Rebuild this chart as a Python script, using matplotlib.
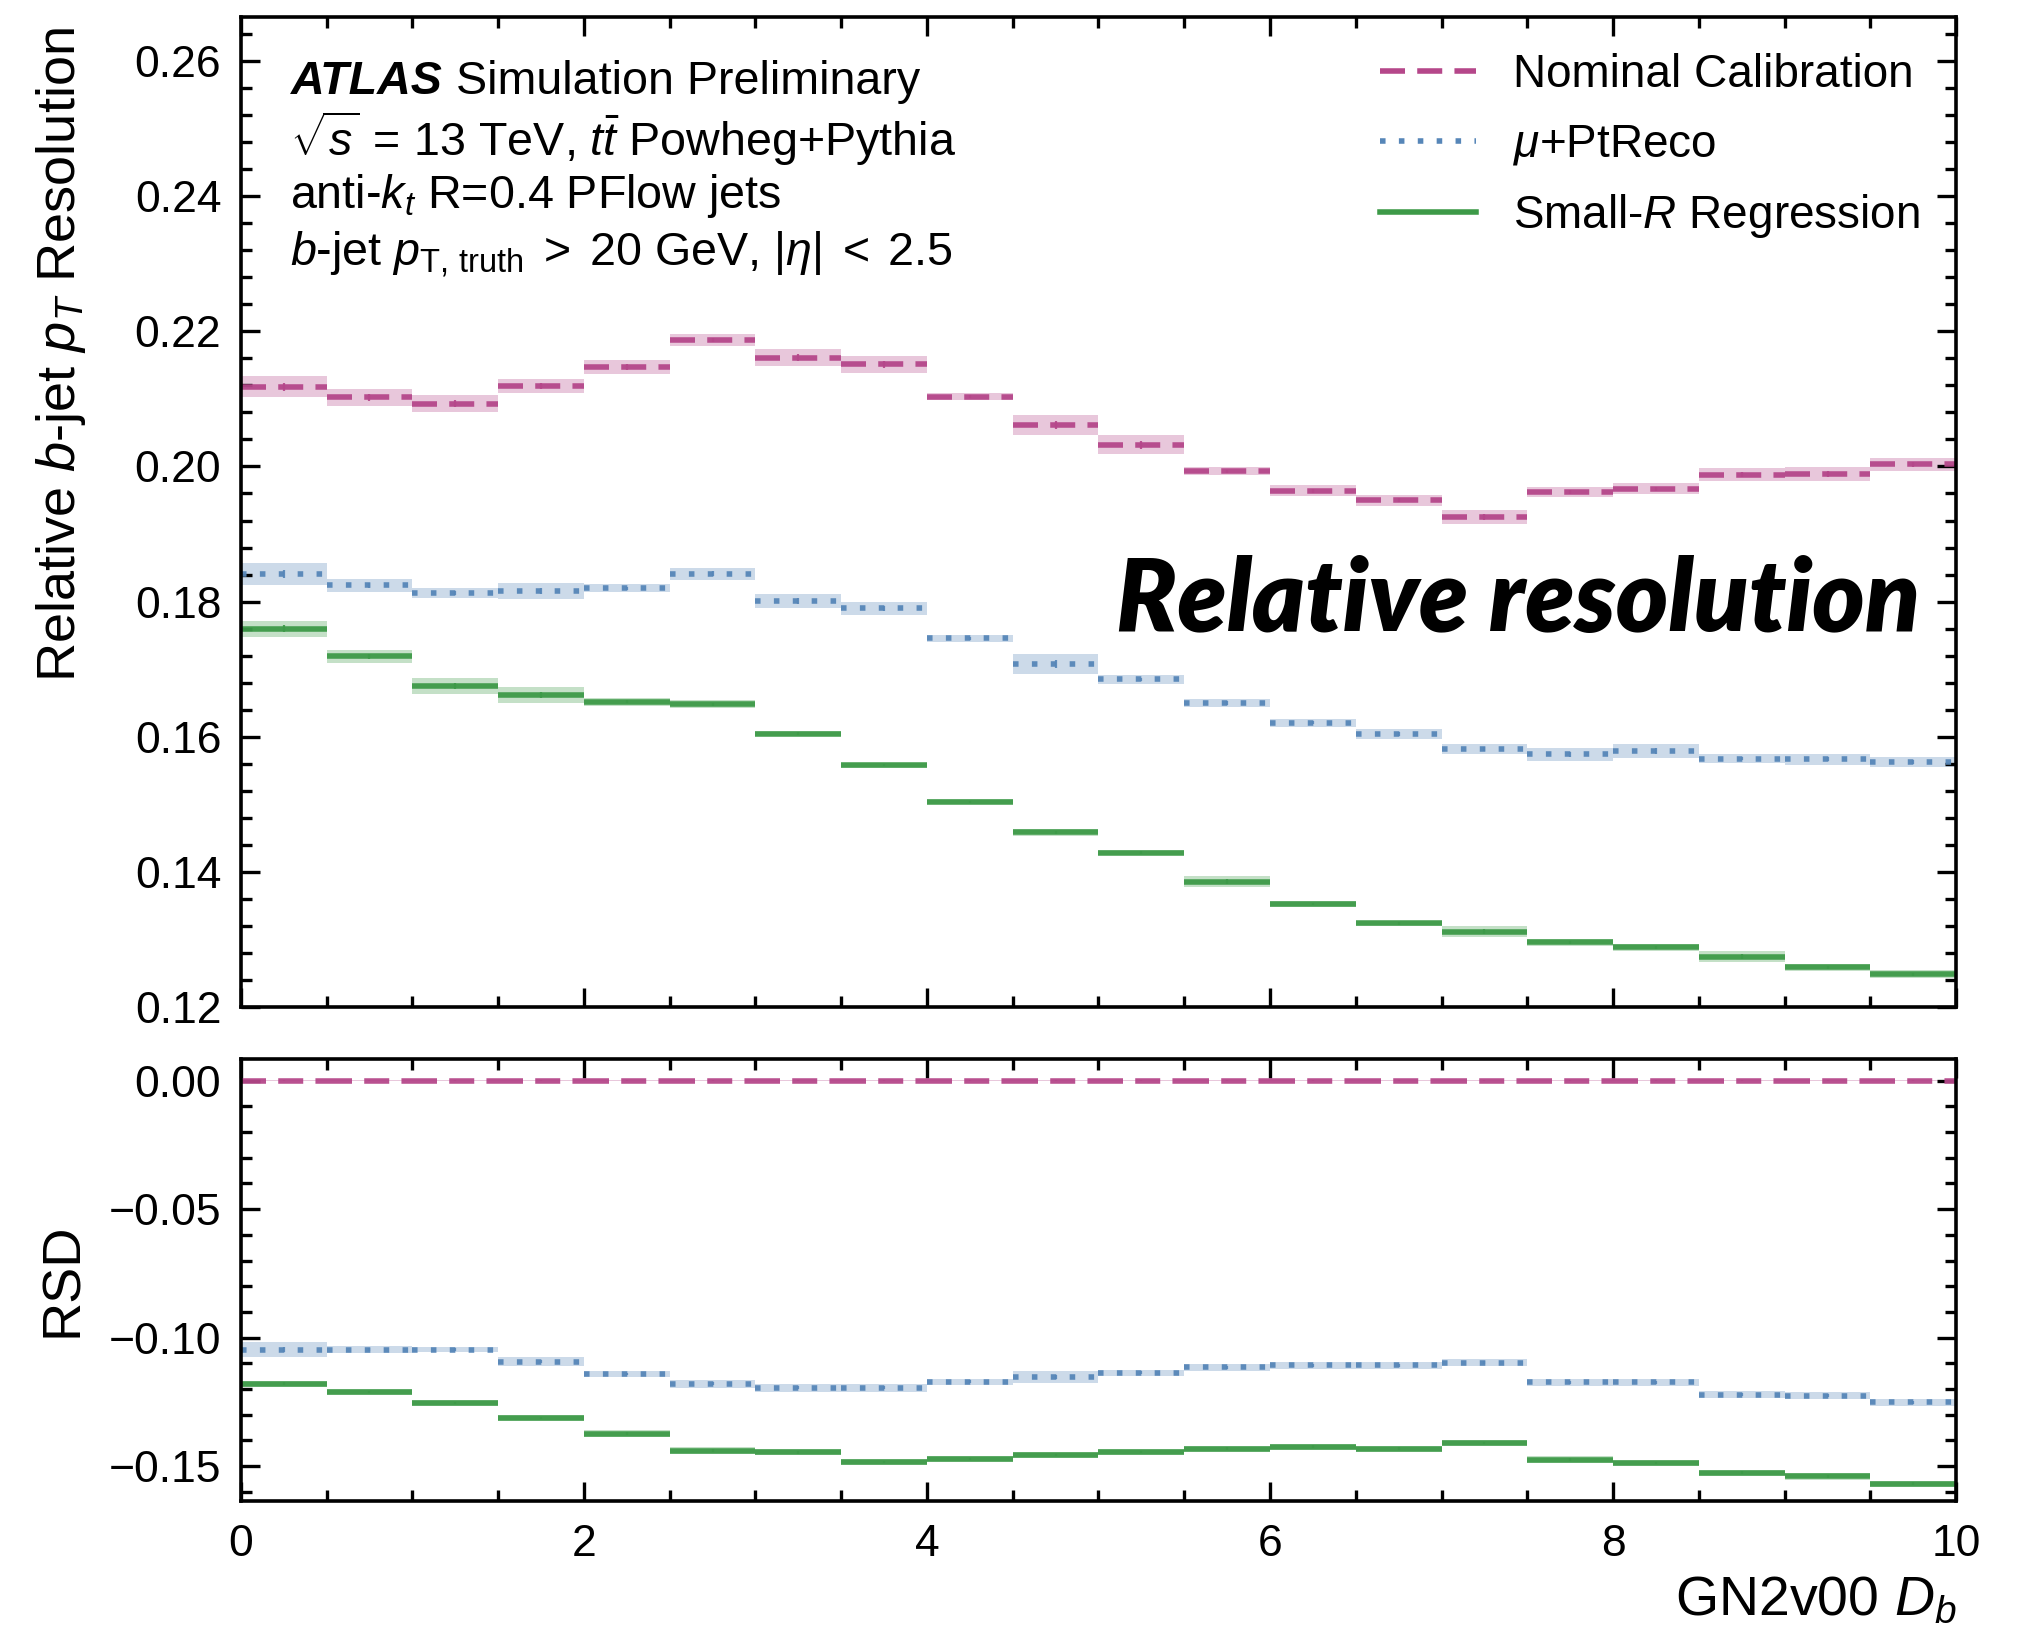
import numpy as np
import matplotlib
matplotlib.use("Agg")
import matplotlib.pyplot as plt
from matplotlib.ticker import MultipleLocator, FuncFormatter

plt.rcParams["font.family"] = ["Liberation Sans", "DejaVu Sans"]
plt.rcParams["mathtext.fontset"] = "custom"
plt.rcParams["mathtext.rm"] = "Liberation Sans"
plt.rcParams["mathtext.it"] = "Liberation Sans:italic"
plt.rcParams["mathtext.bf"] = "Liberation Sans:bold"

# bin edges of GN2v00 D_b
edges = np.arange(0, 10.01, 0.5)

# relative resolution (top panel)
nominal = [0.2118, 0.2102, 0.2093, 0.2119, 0.2147, 0.2187, 0.2161, 0.2151, 0.2103, 0.2061,
           0.2032, 0.1993, 0.1964, 0.1950, 0.1925, 0.1962, 0.1967, 0.1988, 0.1989, 0.2003]
nominal_err = [0.0015, 0.0013, 0.0012, 0.0010, 0.0010, 0.0009, 0.0012, 0.0013, 0.0005, 0.0015,
               0.0014, 0.0006, 0.0008, 0.0008, 0.0010, 0.0007, 0.0008, 0.0009, 0.0010, 0.0010]
ptreco = [0.1841, 0.1824, 0.1813, 0.1816, 0.1820, 0.1841, 0.1801, 0.1790, 0.1746, 0.1708,
          0.1685, 0.1650, 0.1621, 0.1604, 0.1582, 0.1574, 0.1579, 0.1568, 0.1567, 0.1563]
ptreco_err = [0.0016, 0.0009, 0.0007, 0.0012, 0.0006, 0.0009, 0.0010, 0.0009, 0.0005, 0.0015,
              0.0007, 0.0006, 0.0006, 0.0007, 0.0007, 0.0009, 0.0010, 0.0007, 0.0008, 0.0007]
regression = [0.1760, 0.1719, 0.1675, 0.1662, 0.1652, 0.1648, 0.1605, 0.1558, 0.1504, 0.1459,
              0.1429, 0.1386, 0.1353, 0.1324, 0.1312, 0.1296, 0.1289, 0.1275, 0.1259, 0.1249]
regression_err = [0.0012, 0.0010, 0.0012, 0.0012, 0.0006, 0.0006, 0.0004, 0.0004, 0.0004, 0.0005,
                  0.0004, 0.0008, 0.0005, 0.0004, 0.0008, 0.0005, 0.0005, 0.0008, 0.0005, 0.0006]

# RSD (bottom panel)
rsd_nominal = [0.0] * 20
rsd_nominal_err = [0.0002] * 20
rsd_ptreco = [-0.1046, -0.1046, -0.1046, -0.1093, -0.1141, -0.1180, -0.1195, -0.1195, -0.1171, -0.1153,
              -0.1136, -0.1116, -0.1108, -0.1108, -0.1097, -0.1174, -0.1174, -0.1222, -0.1226, -0.1252]
rsd_ptreco_err = [0.0028, 0.0015, 0.0011, 0.0018, 0.0013, 0.0015, 0.0015, 0.0015, 0.0012, 0.0022,
                  0.0012, 0.0013, 0.0013, 0.0013, 0.0014, 0.0014, 0.0014, 0.0013, 0.0014, 0.0013]
rsd_regression = [-0.1179, -0.1211, -0.1255, -0.1313, -0.1373, -0.1439, -0.1446, -0.1484, -0.1473, -0.1457,
                  -0.1445, -0.1432, -0.1424, -0.1432, -0.1410, -0.1474, -0.1487, -0.1525, -0.1540, -0.1568]
rsd_regression_err = [0.0012] * 20

c_nom = "#b5478a"
c_reco = "#5686b8"
c_reg = "#3d9a48"

series = [
    ("Nominal Calibration", c_nom, (0, (4.5, 2.2)), nominal, nominal_err, rsd_nominal, rsd_nominal_err),
    (r"$\mu$+PtReco", c_reco, (0, (1.0, 2.4)), ptreco, ptreco_err, rsd_ptreco, rsd_ptreco_err),
    (r"Small-$R$ Regression", c_reg, "-", regression, regression_err, rsd_regression, rsd_regression_err),
]

lo = edges[:-1]
hi = edges[1:]
mid = 0.5 * (lo + hi)

fig = plt.figure(figsize=(10.09, 8.15), dpi=200)
ax1 = fig.add_axes([0.1193, 0.382, 0.8501, 0.6077])
ax2 = fig.add_axes([0.1193, 0.0789, 0.8501, 0.2715], sharex=ax1)


def draw(ax, vals, errs, color, ls, label=None):
    vals = np.array(vals)
    errs = np.array(errs)
    ax.bar(mid, 2 * errs, bottom=vals - errs, width=0.5, color=color, alpha=0.3, linewidth=0)
    ax.hlines(vals, lo, hi, colors=color, linestyles=ls, linewidth=2.0, alpha=0.95)
    ax.vlines(mid, vals - 0.4 * errs, vals + 0.4 * errs, colors=color, linewidth=0.8, alpha=0.9)
    if label:
        ax.plot([], [], color=color, ls=ls, lw=2.0, label=label)


for label, color, ls, v, e, rv, re in series:
    draw(ax1, v, e, color, ls, label)
    draw(ax2, rv, re, color, ls)

fmt = FuncFormatter(lambda v, p: f"{v:.2f}".replace("-", "\u2212"))

for ax in (ax1, ax2):
    ax.set_xlim(0, 10)
    ax.xaxis.set_major_locator(MultipleLocator(2))
    ax.xaxis.set_minor_locator(MultipleLocator(0.5))
    ax.tick_params(which="both", direction="in", top=True, right=True, labelsize=16, width=1.2)
    ax.tick_params(which="major", length=7)
    ax.tick_params(which="minor", length=3.8)
    ax.tick_params(axis="y", which="both", pad=7)
    ax.tick_params(axis="x", which="both", pad=8)
    ax.yaxis.set_major_formatter(fmt)
    for sp in ax.spines.values():
        sp.set_linewidth(1.3)

ax1.set_ylim(0.12, 0.2665)
ax1.yaxis.set_major_locator(MultipleLocator(0.02))
ax1.yaxis.set_minor_locator(MultipleLocator(0.004))
plt.setp(ax1.get_xticklabels(), visible=False)
ax1.set_ylabel(r"Relative $b$-jet $p_T$ Resolution", fontsize=19.5, loc="top")

ax2.set_ylim(-0.1637, 0.0085)
ax2.yaxis.set_major_locator(MultipleLocator(0.05))
ax2.yaxis.set_minor_locator(MultipleLocator(0.01))
ax2.set_ylabel("RSD", fontsize=19.5)
ax2.set_xlabel(r"GN2v00 $D_b$", fontsize=20, loc="right", labelpad=4)

ax1.get_yaxis().set_label_coords(-0.089, 0.99)
ax2.get_yaxis().set_label_coords(-0.089, 0.5)

# ATLAS label block
tx = 0.029
fs = 16.8
t_atlas = ax1.text(tx, 0.934, "ATLAS", transform=ax1.transAxes, fontsize=fs, fontweight="bold",
                   fontstyle="italic", va="center")
fig.canvas.draw()
bb = t_atlas.get_window_extent().transformed(ax1.transAxes.inverted())
ax1.text(bb.x1 + 0.008, 0.934, "Simulation Preliminary", transform=ax1.transAxes, fontsize=fs, va="center")
ax1.text(tx, 0.877, r"$\sqrt{s}\,=\,13$ TeV, $t\bar{t}$ Powheg+Pythia", transform=ax1.transAxes,
         fontsize=fs, va="center")
ax1.text(tx, 0.819, r"anti-$k_t$ R=0.4 PFlow jets", transform=ax1.transAxes, fontsize=fs, va="center")
ax1.text(tx, 0.760, r"$b$-jet $p_{\mathrm{T,\,truth}}\;>\;20$ GeV, $|\eta|\;<\;2.5$", transform=ax1.transAxes,
         fontsize=fs, va="center")

ax1.legend(loc="upper right", fontsize=16.5, frameon=False, handlelength=2.1, labelspacing=0.55,
           handletextpad=0.8, borderaxespad=0.4)

ax1.text(0.979, 0.41, "Relative resolution", transform=ax1.transAxes, fontsize=36,
         fontfamily="Lato", fontweight="heavy", fontstyle="italic", ha="right", va="center")

fig.savefig("out.png", dpi=200)
